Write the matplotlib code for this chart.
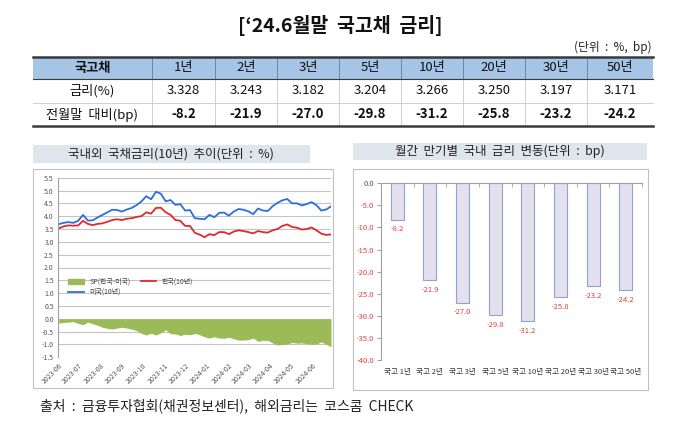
import matplotlib
matplotlib.use("Agg")
import matplotlib.pyplot as plt
import matplotlib.dates as mdates
from matplotlib.patches import Rectangle, Patch
from matplotlib.lines import Line2D
import numpy as np
import pandas as pd

plt.rcParams['font.family'] = ['Noto Sans CJK KR', 'DejaVu Sans']

# table / bar data
maturities = ['1년', '2년', '3년', '5년', '10년', '20년', '30년', '50년']
rates = [3.328, 3.243, 3.182, 3.204, 3.266, 3.250, 3.197, 3.171]
changes = [-8.2, -21.9, -27.0, -29.8, -31.2, -25.8, -23.2, -24.2]
bar_labels = ['국고 ' + m for m in maturities]

# weekly 10y yields (2023-06-02 .. 2024-06-28)
weeks = pd.date_range('2023-06-02', '2024-06-28', freq='W-FRI')
us10 = [3.69, 3.74, 3.77, 3.74, 3.82, 4.05, 3.83, 3.84, 3.95, 4.05,
        4.15, 4.25, 4.24, 4.18, 4.26, 4.32, 4.43, 4.57, 4.78, 4.66,
        4.95, 4.88, 4.58, 4.63, 4.44, 4.47, 4.22, 4.24, 3.92, 3.90,
        3.88, 4.05, 3.96, 4.13, 4.14, 4.02, 4.18, 4.28, 4.25, 4.19,
        4.08, 4.30, 4.22, 4.20, 4.39, 4.52, 4.62, 4.67, 4.50, 4.50,
        4.42, 4.47, 4.55, 4.43, 4.22, 4.26, 4.38]
kr10 = [3.52, 3.60, 3.64, 3.63, 3.64, 3.82, 3.70, 3.65, 3.70, 3.72,
        3.78, 3.85, 3.88, 3.85, 3.90, 3.92, 3.97, 4.00, 4.15, 4.10,
        4.32, 4.33, 4.15, 4.05, 3.85, 3.82, 3.62, 3.62, 3.35, 3.28,
        3.18, 3.30, 3.26, 3.38, 3.38, 3.30, 3.40, 3.45, 3.42, 3.38,
        3.33, 3.42, 3.38, 3.36, 3.45, 3.50, 3.62, 3.68, 3.58, 3.55,
        3.48, 3.50, 3.56, 3.45, 3.32, 3.27, 3.29]
spread = np.array(kr10) - np.array(us10)

W, H = 680, 421
fig = plt.figure(figsize=(W / 100, H / 100), dpi=100)


def px_rect(x0, y0, x1, y1):
    return [x0 / W, 1 - y1 / H, (x1 - x0) / W, (y1 - y0) / H]


bg = fig.add_axes([0, 0, 1, 1])
bg.set_xlim(0, W)
bg.set_ylim(H, 0)
bg.axis('off')

# title
bg.text(340, 25, '[‘24.6월말  국고채  금리]', ha='center', va='center',
        fontsize=14, fontweight='bold', color='#111111')
bg.text(652, 47, '(단위  :  %,  bp)', ha='right', va='center', fontsize=8.5, color='#222222')

# table
tx0, tx1 = 33, 653
bounds = [tx0, 152, 215, 277, 339, 401, 463, 525, 587, tx1]
bg.add_patch(Rectangle((tx0, 57), tx1 - tx0, 22, facecolor='#a6c4e6', edgecolor='none'))
for b in bounds[1:-1]:
    bg.add_line(Line2D([b, b], [57, 79], color='#6a7a8c', lw=0.6))
    bg.add_line(Line2D([b, b], [79, 126], color='#c8c8c8', lw=0.6))
bg.add_line(Line2D([tx0, tx1], [57, 57], color='#3a3a3a', lw=1.8))
bg.add_line(Line2D([tx0, tx1], [79, 79], color='#3a3a3a', lw=0.8))
bg.add_line(Line2D([tx0, tx1], [103, 103], color='#c8c8c8', lw=0.6))
bg.add_line(Line2D([tx0, tx1], [126, 126], color='#3a3a3a', lw=1.8))

centers = [(bounds[i] + bounds[i + 1]) / 2 for i in range(len(bounds) - 1)]
bg.text(centers[0], 68, '국고채', ha='center', va='center', fontsize=9.5,
        fontweight='bold', color='#111111')
bg.text(centers[0], 91, '금리(%)', ha='center', va='center', fontsize=9.5, color='#111111')
bg.text(centers[0], 114.5, '전월말  대비(bp)', ha='center', va='center', fontsize=9.5,
        color='#111111')
for c, m, r, d in zip(centers[1:], maturities, rates, changes):
    bg.text(c, 68, m, ha='center', va='center', fontsize=9.5, color='#111111')
    bg.text(c, 91, f'{r:.3f}', ha='center', va='center', fontsize=9.5, color='#111111')
    bg.text(c, 114.5, f'{d:.1f}', ha='center', va='center', fontsize=9.5,
            fontweight='bold', color='#111111')

# panel title boxes and frames
bg.add_patch(Rectangle((33, 145), 277, 18, facecolor='#dfe5ec', edgecolor='none'))
bg.text(171, 154, '국내외  국채금리(10년)  추이(단위  :  %)', ha='center', va='center',
        fontsize=9, color='#222222')
bg.add_patch(Rectangle((353, 143), 294, 17, facecolor='#dfe5ec', edgecolor='none'))
bg.text(500, 151.5, '월간  만기별  국내  금리  변동(단위  :  bp)', ha='center', va='center',
        fontsize=9, color='#222222')
bg.add_patch(Rectangle((33, 169), 300, 219, facecolor='white', edgecolor='#c0c0c0', lw=0.8))
bg.add_patch(Rectangle((353, 169), 295, 221, facecolor='white', edgecolor='#c0c0c0', lw=0.8))

bg.text(40, 406, '출처  :  금융투자협회(채권정보센터),  해외금리는  코스콤  CHECK', ha='left',
        va='center', fontsize=10, color='#222222')

# line chart
ax = fig.add_axes(px_rect(58, 177.7, 331, 357.3))
ax.set_facecolor('none')
ax.fill_between(weeks, spread, 0, color='#9bbb59', lw=0)
ax.plot(weeks, kr10, color='#e0282e', lw=1.3)
ax.plot(weeks, us10, color='#2a6ee0', lw=1.3)
ax.set_ylim(-1.5, 5.5)
ax.set_yticks(np.arange(-1.5, 5.51, 0.5))
ax.yaxis.set_major_formatter(matplotlib.ticker.FormatStrFormatter('%.1f'))
ax.set_xlim(pd.Timestamp('2023-06-01'), pd.Timestamp('2024-06-28'))
ax.xaxis.set_major_locator(mdates.MonthLocator())
ax.xaxis.set_major_formatter(mdates.DateFormatter('%Y-%m'))
ax.grid(axis='y', color='#c4c4c4', lw=0.8)
ax.set_axisbelow(True)
for s in ['top', 'right', 'bottom']:
    ax.spines[s].set_visible(False)
ax.spines['left'].set_color('#a0a0a0')
ax.tick_params(axis='y', labelsize=5, colors='#555555', length=0, pad=3)
ax.tick_params(axis='x', labelsize=5, colors='#555555', length=0, pad=3)
for lab in ax.get_xticklabels():
    lab.set_rotation(45)
    lab.set_ha('right')
    lab.set_rotation_mode('anchor')
handles = [Patch(color='#9bbb59'), Line2D([], [], color='#2a6ee0', lw=1.3),
           Line2D([], [], color='#e0282e', lw=1.3)]
ax.legend(handles, ['SP(한국-미국)', '미국(10년)', '한국(10년)'], ncol=2,
          loc='upper left', bbox_to_anchor=(0.02, 0.47), frameon=False, fontsize=5,
          handlelength=2.2, handleheight=0.6, columnspacing=1.5, labelspacing=0.3,
          borderpad=0.2, labelcolor='#444444')

# bar chart
bx = fig.add_axes(px_rect(381, 183.3, 642, 360))
bx.set_facecolor('none')
xs = np.arange(len(changes))
bx.bar(xs, changes, width=0.4, color='#e5e0ee', edgecolor='#8aa5d2', lw=0.8)
for x, v in zip(xs, changes):
    bx.text(x, v - 1.3, f'{v:.1f}', ha='center', va='top', fontsize=5.5, color='#e0403a')
bx.set_xlim(-0.5, len(changes) - 0.5)
bx.set_ylim(-40, 0)
bx.set_yticks(np.arange(-40, 0.1, 5))
bx.set_yticklabels([f'{t:.1f}' for t in np.arange(-40, 0.1, 5)])
for lab, t in zip(bx.get_yticklabels(), np.arange(-40, 0.1, 5)):
    lab.set_color('#e0403a' if t < 0 else '#555555')
bx.set_xticks(xs)
bx.set_xticklabels(bar_labels)
bx.set_xticks(np.arange(-0.5, len(changes), 1), minor=True)
bx.tick_params(axis='x', which='major', length=0, labelsize=5.5, colors='#333333', pad=6)
bx.tick_params(axis='x', which='minor', top=True, bottom=False, direction='in',
               length=3, color='#a0a0a0')
bx.tick_params(axis='y', labelsize=5.5, length=3, color='#a0a0a0', pad=2)
bx.spines['bottom'].set_visible(False)
bx.spines['right'].set_visible(False)
bx.spines['top'].set_color('#a0a0a0')
bx.spines['left'].set_color('#a0a0a0')

fig.savefig('out.png', dpi=100)
